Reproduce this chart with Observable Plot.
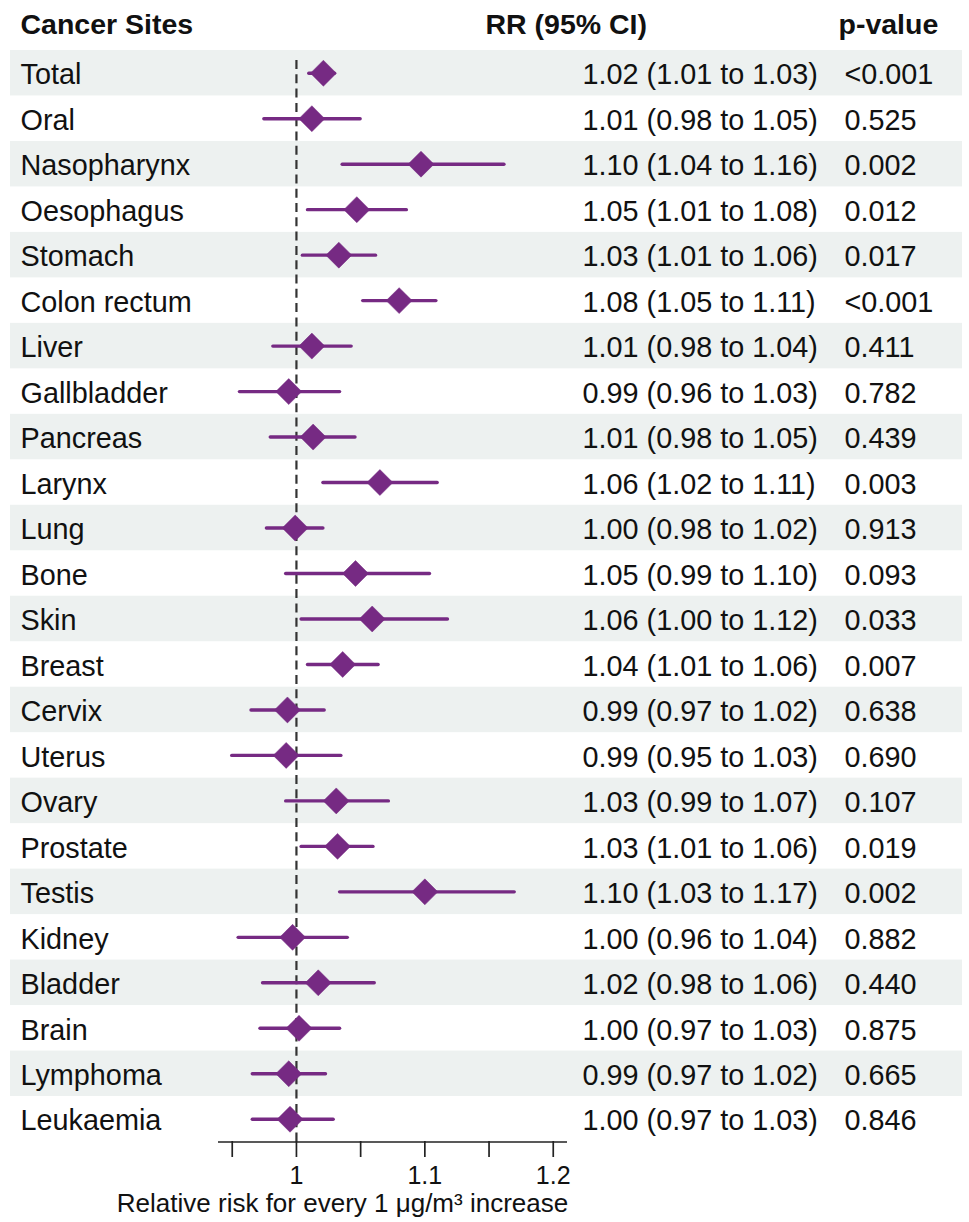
<!DOCTYPE html>
<html>
<head>
<meta charset="utf-8">
<script src="https://cdn.jsdelivr.net/npm/d3@7"></script>
<script src="https://cdn.jsdelivr.net/npm/@observablehq/plot@0.6"></script>
<style>
  html, body { margin: 0; padding: 0; background: #fff; }
  #chart { width: 969px; height: 1222px; overflow: hidden; }
</style>
</head>
<body>
<div id="chart"></div>
<script>
// ---- data ----
const sites = ["Total","Oral","Nasopharynx","Oesophagus","Stomach","Colon rectum","Liver","Gallbladder","Pancreas","Larynx","Lung","Bone","Skin","Breast","Cervix","Uterus","Ovary","Prostate","Testis","Kidney","Bladder","Brain","Lymphoma","Leukaemia"];
const rr  = [1.021,1.012,1.097,1.047,1.033,1.080,1.012,0.994,1.013,1.065,0.999,1.046,1.059,1.036,0.993,0.992,1.031,1.032,1.100,0.997,1.017,1.002,0.994,0.995];
const lo  = [1.010,0.975,1.036,1.009,1.005,1.052,0.982,0.956,0.980,1.021,0.977,0.992,1.004,1.009,0.965,0.950,0.992,1.004,1.034,0.955,0.974,0.972,0.966,0.966];
const hi  = [1.030,1.050,1.162,1.086,1.062,1.109,1.043,1.034,1.046,1.110,1.021,1.104,1.118,1.064,1.022,1.035,1.072,1.060,1.170,1.040,1.061,1.034,1.023,1.029];
const ciText = ["1.02 (1.01 to 1.03)","1.01 (0.98 to 1.05)","1.10 (1.04 to 1.16)","1.05 (1.01 to 1.08)","1.03 (1.01 to 1.06)","1.08 (1.05 to 1.11)","1.01 (0.98 to 1.04)","0.99 (0.96 to 1.03)","1.01 (0.98 to 1.05)","1.06 (1.02 to 1.11)","1.00 (0.98 to 1.02)","1.05 (0.99 to 1.10)","1.06 (1.00 to 1.12)","1.04 (1.01 to 1.06)","0.99 (0.97 to 1.02)","0.99 (0.95 to 1.03)","1.03 (0.99 to 1.07)","1.03 (1.01 to 1.06)","1.10 (1.03 to 1.17)","1.00 (0.96 to 1.04)","1.02 (0.98 to 1.06)","1.00 (0.97 to 1.03)","0.99 (0.97 to 1.02)","1.00 (0.97 to 1.03)"];
const pText = ["<0.001","0.525","0.002","0.012","0.017","<0.001","0.411","0.782","0.439","0.003","0.913","0.093","0.033","0.007","0.638","0.690","0.107","0.019","0.002","0.882","0.440","0.875","0.665","0.846"];
const headers = ["Cancer Sites","RR (95% CI)","p-value"];
const xTicks = [0.95,1,1.05,1.1,1.15,1.2];
const xTickLabels = [1,1.1,1.2];
const xTitle = "Relative risk for every 1 μg/m³ increase";
const refValue = 1;

// ---- table built from arrays ----
const rows = sites.map((s, i) => ({i, site: s, rr: rr[i], lo: lo[i], hi: hi[i], ci: ciText[i], p: pText[i]}));
const shaded = rows.filter(d => d.i % 2 === 0);
const n = sites.length;

const purple = "#762A83";
const font = "'Liberation Sans', Arial, Helvetica, sans-serif";
const xDomain = [0.9393, 1.2111];

const chart = Plot.plot({
  width: 969,
  height: 1222,
  marginTop: 0, marginLeft: 0, marginRight: 0, marginBottom: 81,
  style: {fontFamily: font, background: "#fff", color: "#111"},
  x: {domain: xDomain, range: [218, 567], axis: null},
  y: {domain: [-1.5, n - 0.5], range: [4.5, 1141.5], axis: null},
  marks: [
    // row shading
    Plot.rect(shaded, {y1: d => d.i - 0.5, y2: d => d.i + 0.5, fill: "#EDF1F0", insetLeft: 10, insetRight: 7}),
    // reference line
    Plot.ruleX([refValue], {y1: -0.28, y2: n - 0.5, stroke: "#333", strokeWidth: 2.2, strokeDasharray: "9,5.3"}),
    // CI lines
    Plot.ruleY(rows, {y: "i", x1: "lo", x2: "hi", stroke: purple, strokeWidth: 3.4, strokeLinecap: "round"}),
    // point estimates
    Plot.dot(rows, {y: "i", x: "rr", symbol: "diamond2", r: 11.7, fill: purple, stroke: purple, strokeWidth: 0.5}),
    // table text
    Plot.text(rows, {y: "i", text: "site", frameAnchor: "left", textAnchor: "start", dx: 20, dy: 2, fontSize: 28.8, fill: "#111"}),
    Plot.text(rows, {y: "i", text: "ci", frameAnchor: "left", textAnchor: "start", dx: 582, dy: 2, fontSize: 28.8, fill: "#111"}),
    Plot.text(rows, {y: "i", text: "p", frameAnchor: "left", textAnchor: "start", dx: 844, dy: 2, fontSize: 28.8, fill: "#111"}),
    // headers
    Plot.text([headers[0]], {y: [-1], frameAnchor: "left", textAnchor: "start", dx: 20, dy: -2.5, fontSize: 28.5, fontWeight: "bold", fill: "#111"}),
    Plot.text([headers[1]], {y: [-1], frameAnchor: "left", textAnchor: "start", dx: 485, dy: -2.5, fontSize: 28.5, fontWeight: "bold", fill: "#111"}),
    Plot.text([headers[2]], {y: [-1], frameAnchor: "left", textAnchor: "start", dx: 838, dy: -2.5, fontSize: 28.5, fontWeight: "bold", fill: "#111"}),
    // x axis
    Plot.ruleY([n - 0.5], {x1: xDomain[0], x2: xDomain[1], stroke: "#222", strokeWidth: 1.7}),
    Plot.axisX({
      anchor: "bottom", ticks: xTicks, tickSize: 16, tickPadding: 9, fontSize: 25,
      stroke: "#222", strokeWidth: 1.7, color: "#111",
      tickFormat: d => xTickLabels.some(t => Math.abs(t - d) < 1e-9) ? d3.format("~g")(d) : "",
      label: null
    }),
    Plot.text([xTitle], {frameAnchor: "bottom-left", textAnchor: "middle", dx: 342, dy: 70, fontSize: 26, fill: "#111"})
  ]
});
document.getElementById("chart").appendChild(chart);
</script>
</body>
</html>
